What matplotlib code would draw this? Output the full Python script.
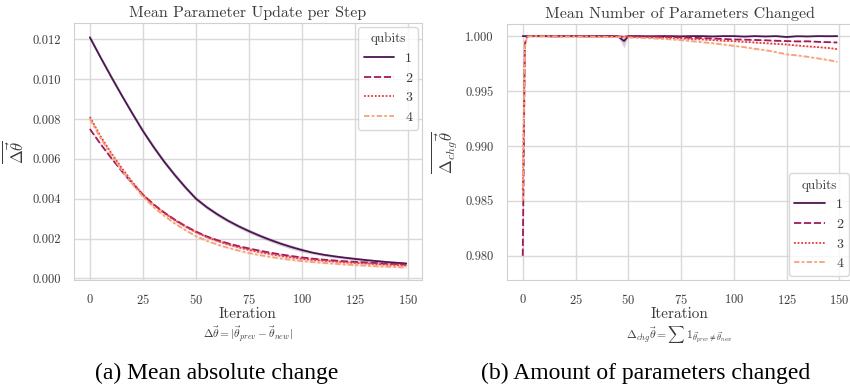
import matplotlib
matplotlib.use("Agg")
import matplotlib.pyplot as plt
import seaborn as sns
from matplotlib.ticker import FormatStrFormatter

# --- data ---
qubits = [1, 2, 3, 4]

# left: mean absolute parameter update
it_a = [0, 5, 10, 15, 20, 25, 30, 35, 40, 45, 50, 55, 60, 65, 70, 75, 80, 85,
        90, 95, 100, 105, 110, 115, 120, 125, 130, 135, 140, 145, 149]
upd_q1 = [0.01210, 0.01110, 0.01013, 0.00919, 0.00828, 0.00740, 0.00660, 0.00586,
          0.00519, 0.00457, 0.00400, 0.00358, 0.00322, 0.00290, 0.00262, 0.00237,
          0.00214, 0.00193, 0.00174, 0.00157, 0.00142, 0.00129, 0.00119, 0.00111,
          0.00104, 0.00098, 0.00092, 0.00087, 0.00082, 0.00078, 0.00075]
upd_q2 = [0.00750, 0.00675, 0.00605, 0.00539, 0.00477, 0.00420, 0.00372, 0.00331,
          0.00295, 0.00263, 0.00235, 0.00211, 0.00192, 0.00176, 0.00162, 0.00150,
          0.00139, 0.00129, 0.00120, 0.00112, 0.00105, 0.00099, 0.00094, 0.00090,
          0.00086, 0.00083, 0.00080, 0.00077, 0.00074, 0.00072, 0.00070]
upd_q3 = [0.00810, 0.00714, 0.00630, 0.00554, 0.00484, 0.00420, 0.00370, 0.00328,
          0.00292, 0.00260, 0.00232, 0.00208, 0.00188, 0.00171, 0.00156, 0.00143,
          0.00132, 0.00122, 0.00113, 0.00105, 0.00098, 0.00093, 0.00089, 0.00085,
          0.00081, 0.00078, 0.00075, 0.00072, 0.00069, 0.00067, 0.00065]
upd_q4 = [0.00800, 0.00704, 0.00620, 0.00544, 0.00474, 0.00410, 0.00358, 0.00314,
          0.00276, 0.00242, 0.00212, 0.00189, 0.00170, 0.00154, 0.00140, 0.00127,
          0.00117, 0.00108, 0.00100, 0.00093, 0.00087, 0.00082, 0.00078, 0.00074,
          0.00070, 0.00067, 0.00064, 0.00061, 0.00059, 0.00057, 0.00055]
upd_err_q1 = [0.00012] * 10 + [0.0001] * 11 + [0.00007] * 10
upd_err_q2 = [0.00006] * 31
upd_err_q3 = [0.00006] * 31
upd_err_q4 = [0.00005] * 31

# right: fraction of parameters changed
it_b = [0, 1, 2, 3, 5, 10, 15, 20, 25, 30, 35, 40, 45, 48, 50, 55, 60, 65, 70,
        75, 80, 85, 90, 95, 100, 105, 110, 115, 120, 125, 130, 135, 140, 145, 149]
chg_q1 = [1.0, 1.0, 1.0, 1.0, 1.0, 1.0, 0.99998, 1.0, 1.0, 0.99998, 1.0, 1.0,
          0.99999, 0.99955, 1.0, 1.0, 0.99998, 1.0, 1.0, 0.99998, 1.0, 1.0,
          0.99997, 1.0, 1.0, 0.99996, 1.0, 0.99997, 1.0, 0.99992, 0.99999,
          0.99997, 1.0, 0.99999, 1.0]
chg_q2 = [0.9800, 0.9993, 0.99995, 1.0, 1.0, 0.99999, 1.0, 0.99998, 1.0, 0.99999,
          0.99998, 1.0, 0.99997, 0.99995, 0.99998, 0.99996, 0.99996, 0.99994,
          0.99992, 0.9999, 0.99985, 0.99982, 0.99978, 0.99974, 0.9997, 0.99968,
          0.99965, 0.99962, 0.99958, 0.99955, 0.99952, 0.99953, 0.99948, 0.99945,
          0.99942]
chg_q3 = [0.9860, 0.9992, 0.99995, 1.0, 0.99999, 1.0, 0.99998, 1.0, 0.99998,
          0.99999, 0.99997, 0.99996, 0.99995, 0.99993, 0.99993, 0.9999, 0.99988,
          0.99985, 0.99982, 0.99979, 0.99974, 0.9997, 0.99964, 0.99958, 0.99955,
          0.99948, 0.99942, 0.99936, 0.9993, 0.99924, 0.99915, 0.99907, 0.999,
          0.99892, 0.99882]
chg_q4 = [0.9850, 0.9990, 0.99993, 0.99998, 1.0, 0.99998, 0.99997, 0.99996,
          0.99996, 0.99995, 0.99994, 0.99993, 0.99991, 0.9999, 0.99988, 0.99984,
          0.9998, 0.99976, 0.9997, 0.99964, 0.99955, 0.99945, 0.99935, 0.99924,
          0.99912, 0.999, 0.99885, 0.99872, 0.99855, 0.99834, 0.99825, 0.99812,
          0.99797, 0.99782, 0.99766]
chg_err_q1 = [0.0, 0.0, 0.0, 0.0] + [0.00002] * 9 + [0.0006] + [0.00002] * 21
chg_err_q2 = [0.0011, 0.0003] + [0.00002] * 17 + [0.00004] * 16
chg_err_q3 = [0.0008, 0.0003] + [0.00002] * 17 + [0.00005] * 16
chg_err_q4 = [0.0008, 0.0003] + [0.00002] * 17 + [0.00008] * 16

colors = ['#4b1650', '#a3195b', '#e8383d', '#f6a178']
dashes = [(None, None), (4, 1.5), (1, 1), (3, 1.25, 1.5, 1.25)]

sns.set_style("whitegrid")
plt.rcParams['font.family'] = ['cmr10', 'DejaVu Serif']
plt.rcParams['mathtext.fontset'] = 'cm'
plt.rcParams['axes.formatter.use_mathtext'] = True
plt.rcParams['axes.unicode_minus'] = False

fig = plt.figure(figsize=(8.5, 3.89), dpi=100)
ax_a = fig.add_axes([0.0871, 0.2802, 0.4094, 0.6607])
ax_b = fig.add_axes([0.5965, 0.2802, 0.4070, 0.6580])

txt_gray = '#3a3a3a'


def draw(ax, x, series, errs):
    for q, y, e, c, d in zip(qubits, series, errs, colors, dashes):
        lo = [v - w for v, w in zip(y, e)]
        hi = [v + w for v, w in zip(y, e)]
        ax.fill_between(x, lo, hi, color=c, alpha=0.2, linewidth=0)
        line, = ax.plot(x, y, color=c, linewidth=1.3, label=str(q))
        if d[0] is not None:
            line.set_dashes(d)


draw(ax_a, it_a, [upd_q1, upd_q2, upd_q3, upd_q4],
     [upd_err_q1, upd_err_q2, upd_err_q3, upd_err_q4])
draw(ax_b, it_b, [chg_q1, chg_q2, chg_q3, chg_q4],
     [chg_err_q1, chg_err_q2, chg_err_q3, chg_err_q4])

ax_a.set_ylim(-0.00008, 0.01282)
ax_a.set_yticks([0.0, 0.002, 0.004, 0.006, 0.008, 0.010, 0.012])
ax_b.set_ylim(0.9778, 1.0011)
ax_b.set_yticks([0.980, 0.985, 0.990, 0.995, 1.000])

for ax in (ax_a, ax_b):
    ax.set_xlim(-7.45, 156.45)
    ax.set_xticks([0, 25, 50, 75, 100, 125, 150])
    ax.yaxis.set_major_formatter(FormatStrFormatter('%.3f'))
    ax.tick_params(labelsize=9, colors=txt_gray, pad=6)
    ax.set_xlabel('Iteration', fontsize=11, color=txt_gray, labelpad=0)
    for s in ax.spines.values():
        s.set_color('#d0d0d0')
    ax.grid(color='#d9d9d9', linewidth=1)

ax_a.set_title('Mean Parameter Update per Step', fontsize=11.5, color=txt_gray, pad=4)
ax_b.set_title('Mean Number of Parameters Changed', fontsize=11.5, color=txt_gray, pad=4)
ax_a.set_ylabel(r'$\overline{\Delta\vec{\theta}}$', fontsize=12, color=txt_gray, labelpad=4)
ax_b.set_ylabel(r'$\overline{\Delta_{chg}\vec{\theta}}$', fontsize=12, color=txt_gray, labelpad=4)

leg_a = ax_a.legend(title='qubits', loc='upper right', fontsize=10, title_fontsize=9.5,
                    frameon=True, handlelength=2.2, borderaxespad=0.3)
leg_b = ax_b.legend(title='qubits', loc='lower right', fontsize=10, title_fontsize=9.5,
                    frameon=True, handlelength=2.2, borderaxespad=0.3)
for leg in (leg_a, leg_b):
    leg.get_frame().set_edgecolor('#d0d0d0')
    leg.get_title().set_color(txt_gray)
    for t in leg.get_texts():
        t.set_color(txt_gray)

# formulas under the x labels
fig.text(0.2918, 0.139, r'$\Delta\vec{\theta} = |\vec{\theta}_{prev} - \vec{\theta}_{new}|$',
         ha='center', va='center', fontsize=8.2, color=txt_gray)
fig.text(0.799, 0.139, r'$\Delta_{chg}\vec{\theta} = \sum\, 1_{\vec{\theta}_{prev} \neq \vec{\theta}_{new}}$',
         ha='center', va='center', fontsize=8.4, color=txt_gray)

# sub-figure captions
fig.text(0.255, 0.041, '(a) Mean absolute change', ha='center', va='center',
         fontsize=17, family='Liberation Serif', color='black')
fig.text(0.760, 0.041, '(b) Amount of parameters changed', ha='center', va='center',
         fontsize=17, family='Liberation Serif', color='black')

fig.savefig('out.png', dpi=100)
